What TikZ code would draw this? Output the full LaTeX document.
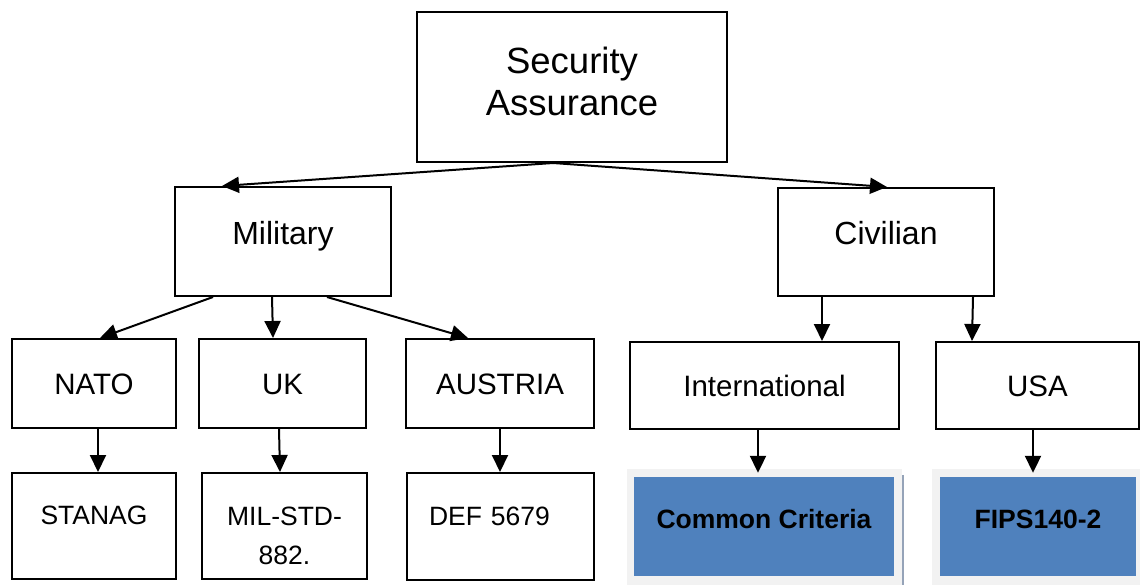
\documentclass[tikz,border=0pt]{standalone}
\usepackage{fontspec}
\setmainfont{Liberation Sans}
\usetikzlibrary{arrows.meta}
\definecolor{ccblue}{HTML}{4F81BD}
\definecolor{backgray}{HTML}{F2F2F2}
\definecolor{edgeblue}{HTML}{95A3B8}
\tikzset{
  plainbox/.style={draw,line width=2pt,inner sep=0pt},
  rootline/.style={plainbox,align=center,font=\fontsize{36.5}{42}\selectfont,text height=69pt,text depth=13pt},
  topline/.style={plainbox,font=\fontsize{32}{37}\selectfont,text height=29pt,text depth=24pt},
  midline/.style={plainbox,font=\fontsize{29.5}{34}\selectfont,text height=22pt,text depth=1pt},
  lowline/.style={plainbox,align=center,font=\fontsize{26.5}{39}\selectfont,text height=20pt,text depth=23pt},
  backbox/.style={fill=backgray,inner sep=0pt},
  stdbox/.style={fill=ccblue,inner sep=0pt,font=\bfseries\fontsize{26.5}{31}\selectfont,text height=19pt,text depth=16pt},
  arr/.style={-{Triangle[length=17pt,width=16pt]},line width=2pt}
}
\begin{document}
\begin{tikzpicture}[x=1pt,y=-1pt]
\useasboundingbox (0,0) rectangle (1140,584);
\node[rootline,minimum width=310pt,minimum height=150pt] (sa) at (572,87) {Security\\Assurance};
\node[topline,minimum width=216pt,minimum height=109pt] (mil) at (283,241.5) {Military};
\node[topline,minimum width=216pt,minimum height=108pt] (civ) at (886,242) {Civilian};
\node[midline,minimum width=164pt,minimum height=89pt] (nato) at (94,383.5) {NATO};
\node[midline,minimum width=167pt,minimum height=89pt] (uk) at (282.5,383.5) {UK};
\node[midline,minimum width=188pt,minimum height=89pt] (aus) at (500,383.5) {AUSTRIA};
\node[midline,minimum width=269pt,minimum height=87pt] (intl) at (764.5,385.5) {International};
\node[midline,minimum width=203pt,minimum height=87pt] (usa) at (1037.5,385.5) {USA};
\node[lowline,minimum width=164pt,minimum height=106pt] (stanag) at (94,526) {STANAG};
\node[lowline,text height=76pt,text depth=0pt,minimum width=165pt,minimum height=106pt] (milstd) at (284.5,526) {MIL-STD-\\882.};
\node[lowline,align=left,text width=143pt,minimum width=187pt,minimum height=107pt] (def) at (500.5,526.5) {DEF 5679};
\node[backbox,minimum width=275pt,minimum height=117pt] (ccback) at (764.5,527.5) {};
\node[stdbox,minimum width=260pt,minimum height=99pt] (cc) at (764,526.5) {Common Criteria};
\node[backbox,minimum width=210pt,minimum height=117pt] (fipsback) at (1037,527.5) {};
\node[stdbox,minimum width=196pt,minimum height=99pt] (fips) at (1038,526.5) {FIPS140-2};
\draw[edgeblue,line width=1.5pt] ([xshift=1pt,yshift=-6pt]ccback.north east) -- ([xshift=1pt]ccback.south east);
\draw[arr] ([xshift=-19pt]sa.south) -- ([xshift=-61pt]mil.north);
\draw[arr] ([xshift=-19pt]sa.south) -- ([xshift=1pt]civ.north);
\draw[arr] ([xshift=-70pt]mil.south) -- ([xshift=6pt]nato.north);
\draw[arr] ([xshift=-11pt]mil.south) -- ([xshift=-9.5pt]uk.north);
\draw[arr] ([xshift=44pt]mil.south) -- ([xshift=-32pt]aus.north);
\draw[arr] ([xshift=-64pt]civ.south) -- ([xshift=57.5pt]intl.north);
\draw[arr] ([xshift=87pt]civ.south) -- ([xshift=-65.5pt]usa.north);
\draw[arr] ([xshift=4pt]nato.south) -- ([xshift=4pt]stanag.north);
\draw[arr] ([xshift=-3.5pt]uk.south) -- ([xshift=-4.5pt]milstd.north);
\draw[arr] (aus.south) -- ([xshift=-0.5pt]def.north);
\draw[arr] ([xshift=-6.5pt]intl.south) -- ([xshift=-6.5pt,yshift=-4pt]ccback.north);
\draw[arr] ([xshift=-4.5pt]usa.south) -- ([xshift=-4pt,yshift=-4pt]fipsback.north);
\end{tikzpicture}
\end{document}
